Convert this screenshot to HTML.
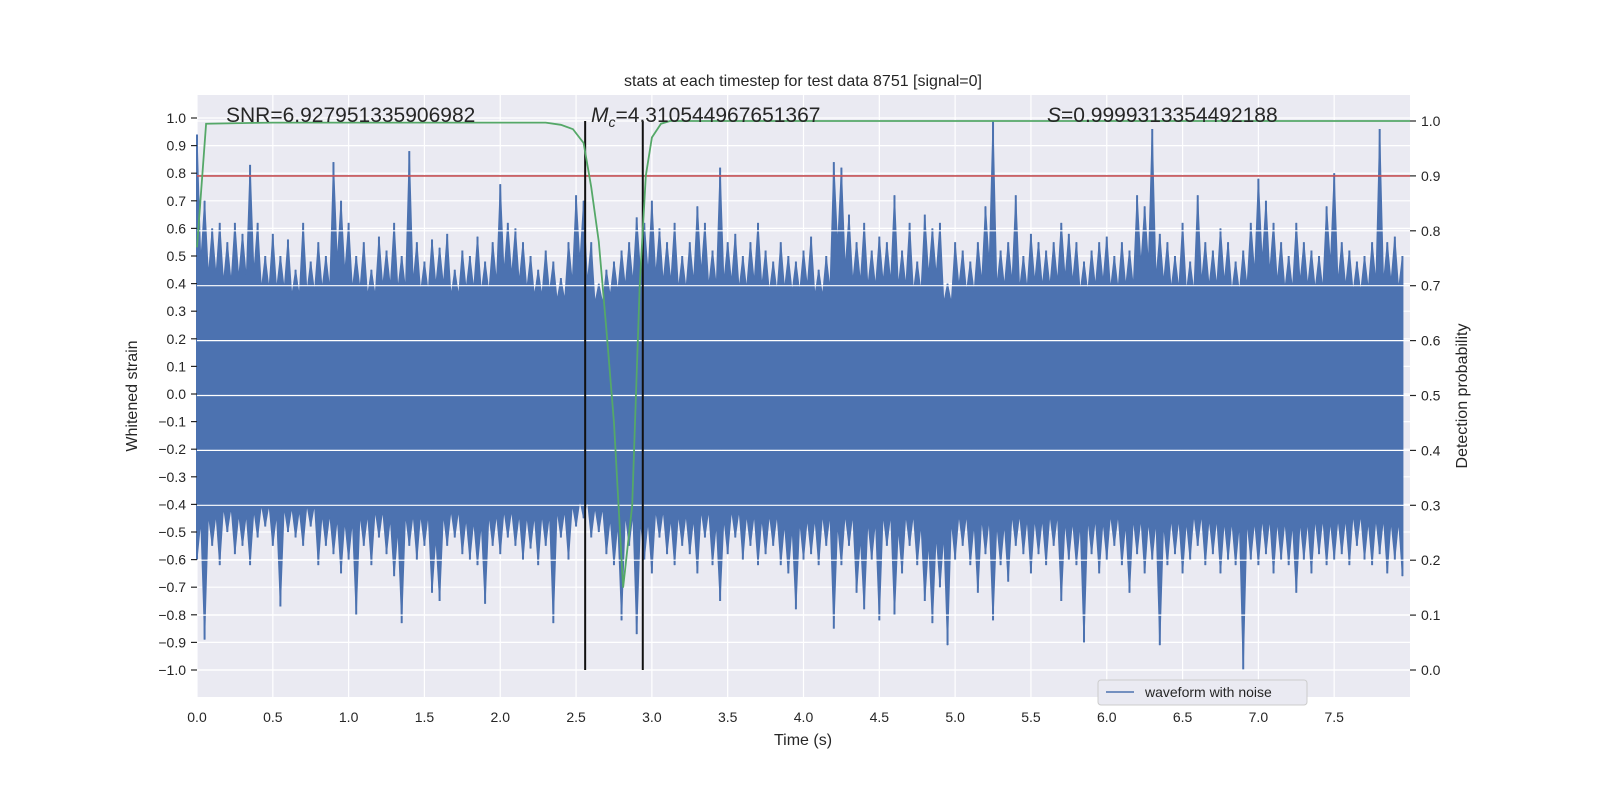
<!DOCTYPE html>
<html><head><meta charset="utf-8"><style>
html,body{margin:0;padding:0;background:#fff;overflow:hidden;}
svg{display:block;width:100vw;height:100vh;}
svg text{font-family:"Liberation Sans","DejaVu Sans",sans-serif;fill:#262626;}
</style></head><body>
<svg id="chart" viewBox="0 0 1600 800" preserveAspectRatio="none" xmlns="http://www.w3.org/2000/svg">
<rect width="1600" height="800" fill="#fff"/>
<rect x="197" y="95" width="1213" height="602" fill="#eaeaf2"/>
<g id="gridL"></g><g id="wave"></g><g id="gridR"></g><g id="overlay"></g><g id="axes"></g>
<text x="803" y="86" font-size="16" text-anchor="middle">stats at each timestep for test data 8751 [signal=0]</text>
<text x="226" y="122" font-size="21">SNR=6.927951335906982</text>
<text x="591" y="122" font-size="21"><tspan font-style="italic">M</tspan><tspan font-style="italic" font-size="14" dy="5">c</tspan><tspan dy="-5">=4.310544967651367</tspan></text>
<text x="1047" y="122" font-size="21"><tspan font-style="italic">S</tspan>=0.9999313354492188</text>
<text x="803" y="745" font-size="16" text-anchor="middle">Time (s)</text>
<text transform="translate(137,396) rotate(-90)" font-size="16" text-anchor="middle">Whitened strain</text>
<text transform="translate(1467,396) rotate(-90)" font-size="16" text-anchor="middle">Detection probability</text>
<g>
<rect x="1098" y="680" width="209" height="25" rx="3" fill="#eaeaf2" stroke="#cccccc"/>
<line x1="1106" y1="692" x2="1134" y2="692" stroke="#4c72b0" stroke-width="1.6"/>
<text x="1145" y="697" font-size="14">waveform with noise</text>
</g>
</svg>
<script>
const waveStep = 0.05;
const waveHi = [0.94,0.70,0.60,0.62,0.55,0.62,0.58,0.83,0.62,0.50,
0.58,0.50,0.56,0.45,0.62,0.48,0.55,0.50,0.84,0.70,
0.62,0.50,0.55,0.45,0.57,0.52,0.62,0.50,0.88,0.55,
0.48,0.56,0.53,0.58,0.45,0.52,0.50,0.57,0.48,0.55,
0.76,0.62,0.60,0.55,0.50,0.45,0.52,0.48,0.42,0.55,
0.72,0.70,0.55,0.40,0.45,0.48,0.52,0.55,0.64,0.62,
0.70,0.60,0.55,0.62,0.50,0.55,0.68,0.62,0.52,0.82,
0.55,0.58,0.50,0.55,0.62,0.52,0.48,0.55,0.50,0.48,
0.52,0.57,0.45,0.50,0.84,0.82,0.65,0.55,0.62,0.52,
0.57,0.55,0.72,0.52,0.62,0.48,0.65,0.60,0.62,0.40,
0.55,0.52,0.48,0.55,0.68,0.99,0.52,0.55,0.72,0.50,
0.58,0.55,0.52,0.55,0.62,0.58,0.55,0.48,0.52,0.55,
0.57,0.50,0.55,0.52,0.72,0.68,0.96,0.58,0.55,0.50,
0.62,0.48,0.72,0.55,0.52,0.60,0.55,0.48,0.52,0.62,
0.78,0.70,0.62,0.55,0.50,0.62,0.55,0.52,0.50,0.68,
0.80,0.55,0.52,0.48,0.50,0.55,0.96,0.55,0.57,0.50];
const waveLo = [-0.60,-0.89,-0.55,-0.62,-0.50,-0.58,-0.55,-0.62,-0.52,-0.48,
-0.55,-0.77,-0.50,-0.52,-0.55,-0.48,-0.62,-0.55,-0.58,-0.65,
-0.60,-0.80,-0.55,-0.62,-0.52,-0.58,-0.66,-0.83,-0.55,-0.60,
-0.55,-0.72,-0.75,-0.55,-0.52,-0.58,-0.60,-0.62,-0.76,-0.55,
-0.58,-0.52,-0.55,-0.60,-0.56,-0.62,-0.55,-0.83,-0.52,-0.60,
-0.48,-0.45,-0.52,-0.50,-0.58,-0.62,-0.82,-0.55,-0.87,-0.60,
-0.65,-0.52,-0.58,-0.62,-0.55,-0.58,-0.65,-0.52,-0.62,-0.75,
-0.58,-0.52,-0.60,-0.55,-0.62,-0.58,-0.55,-0.62,-0.65,-0.78,
-0.60,-0.58,-0.62,-0.55,-0.85,-0.62,-0.55,-0.72,-0.78,-0.60,
-0.82,-0.55,-0.80,-0.65,-0.55,-0.62,-0.75,-0.83,-0.70,-0.91,
-0.60,-0.55,-0.62,-0.72,-0.58,-0.82,-0.62,-0.68,-0.55,-0.58,
-0.65,-0.58,-0.62,-0.55,-0.75,-0.60,-0.62,-0.90,-0.58,-0.65,
-0.60,-0.55,-0.62,-0.72,-0.58,-0.65,-0.60,-0.91,-0.62,-0.58,
-0.65,-0.60,-0.55,-0.62,-0.58,-0.65,-0.60,-0.62,-1.00,-0.60,
-0.62,-0.58,-0.65,-0.60,-0.62,-0.72,-0.60,-0.65,-0.58,-0.62,
-0.60,-0.58,-0.62,-0.55,-0.60,-0.62,-0.58,-0.65,-0.60,-0.66];
const probT = [0,0.06,0.5,2.3,2.4,2.48,2.55,2.6,2.65,2.7,2.75,2.81,2.87,2.92,2.96,3.0,3.06,3.12,8.0];
const probV = [0.77,0.995,0.997,0.997,0.993,0.985,0.96,0.88,0.78,0.62,0.45,0.15,0.3,0.7,0.9,0.97,0.995,1.0,1.0];
const threshold = [0.9];
const markerTimes = [2.56,2.94];
const xTicks = [0,0.5,1,1.5,2,2.5,3,3.5,4,4.5,5,5.5,6,6.5,7,7.5];
const yTicks = [-1,-0.9,-0.8,-0.7,-0.6,-0.5,-0.4,-0.3,-0.2,-0.1,0,0.1,0.2,0.3,0.4,0.5,0.6,0.7,0.8,0.9,1.0];
const y2Ticks = [0,0.1,0.2,0.3,0.4,0.5,0.6,0.7,0.8,0.9,1.0];

const NS='http://www.w3.org/2000/svg';
const X0=197,X1=1410,Y0=95,Y1=697;
const CORE_HI=0.26, CORE_LO=-0.32;
const xs=t=>X0+t/8*(X1-X0);
const ys=v=>394-v*276;
const ys2=v=>670-v*549;
function mk(tag,attrs,parent){const e=document.createElementNS(NS,tag);for(const k in attrs)e.setAttribute(k,attrs[k]);parent.appendChild(e);return e;}
const gL=document.getElementById('gridL'),gW=document.getElementById('wave'),gR=document.getElementById('gridR'),gO=document.getElementById('overlay'),gA=document.getElementById('axes');
xTicks.forEach(t=>{const l=mk('line',{x1:xs(t),x2:xs(t),y1:Y0,y2:Y1,stroke:'#fff','stroke-width':1.2},gL);


const tx=mk('text',{x:xs(t),y:722,'font-size':14,'text-anchor':'middle'},gA);tx.textContent=t.toFixed(1);

});
yTicks.forEach(v=>{const l=mk('line',{x1:X0,x2:X1,y1:ys(v),y2:ys(v),stroke:'#fff','stroke-width':1.2},gL);


mk('line',{x1:X0-6,x2:X0,y1:ys(v),y2:ys(v),stroke:'#262626','stroke-width':1.2},gA);
const tx=mk('text',{x:X0-11,y:ys(v)+5,'font-size':14,'text-anchor':'end'},gA);tx.textContent=(v<0?'\u2212':'')+Math.abs(v).toFixed(1);

});
y2Ticks.forEach(v=>{const l=mk('line',{x1:X0,x2:X1,y1:ys2(v),y2:ys2(v),stroke:'#fff','stroke-width':1.2},gR);


mk('line',{x1:X1,x2:X1+6,y1:ys2(v),y2:ys2(v),stroke:'#262626','stroke-width':1.2},gA);
const tx=mk('text',{x:X1+11,y:ys2(v)+5,'font-size':14},gA);tx.textContent=v.toFixed(1);

});
// waveform envelope: peaks at samples, valleys between neighbours toward the dense core
const upperPts=[],lowerPts=[];
waveHi.forEach((v,i)=>{const t=i*waveStep;
upperPts.push(xs(t).toFixed(1)+','+ys(v).toFixed(1));
if(i<waveHi.length-1){const m=(Math.min(v,waveHi[i+1])+CORE_HI)/2;
upperPts.push(xs(t+waveStep*0.5).toFixed(1)+','+ys(m).toFixed(1));}
});
for(let i=waveLo.length-1;i>=0;i--){const t=i*waveStep;
if(i<waveLo.length-1){const m=(Math.max(waveLo[i],waveLo[i+1])+CORE_LO)/2;
lowerPts.push(xs(t+waveStep*0.5).toFixed(1)+','+ys(m).toFixed(1));}
lowerPts.push(xs(t).toFixed(1)+','+ys(waveLo[i]).toFixed(1));}
const wp=mk('polygon',{points:upperPts.concat(lowerPts).join(' '),fill:'#4c72b0',stroke:'#4c72b0','stroke-width':1},gW);


waveHi.forEach((v,i)=>{const s=mk('line',{x1:xs(i*waveStep),x2:xs(i*waveStep),y1:ys(v),y2:ys(waveLo[i]),stroke:'#4c72b0','stroke-width':2},gW);

});
threshold.forEach(v=>{const l=mk('line',{x1:X0,x2:X1,y1:ys2(v),y2:ys2(v),stroke:'#c44e52','stroke-width':1.6},gO);

});
markerTimes.forEach(t=>{const l=mk('line',{x1:xs(t),x2:xs(t),y1:ys2(1),y2:ys2(0),stroke:'#111','stroke-width':2},gO);

});
const pp=mk('polyline',{points:probT.map((t,i)=>xs(t).toFixed(1)+','+ys2(probV[i]).toFixed(1)).join(' '),fill:'none',stroke:'#55a868','stroke-width':1.8},gO);


</script>
</body></html>
